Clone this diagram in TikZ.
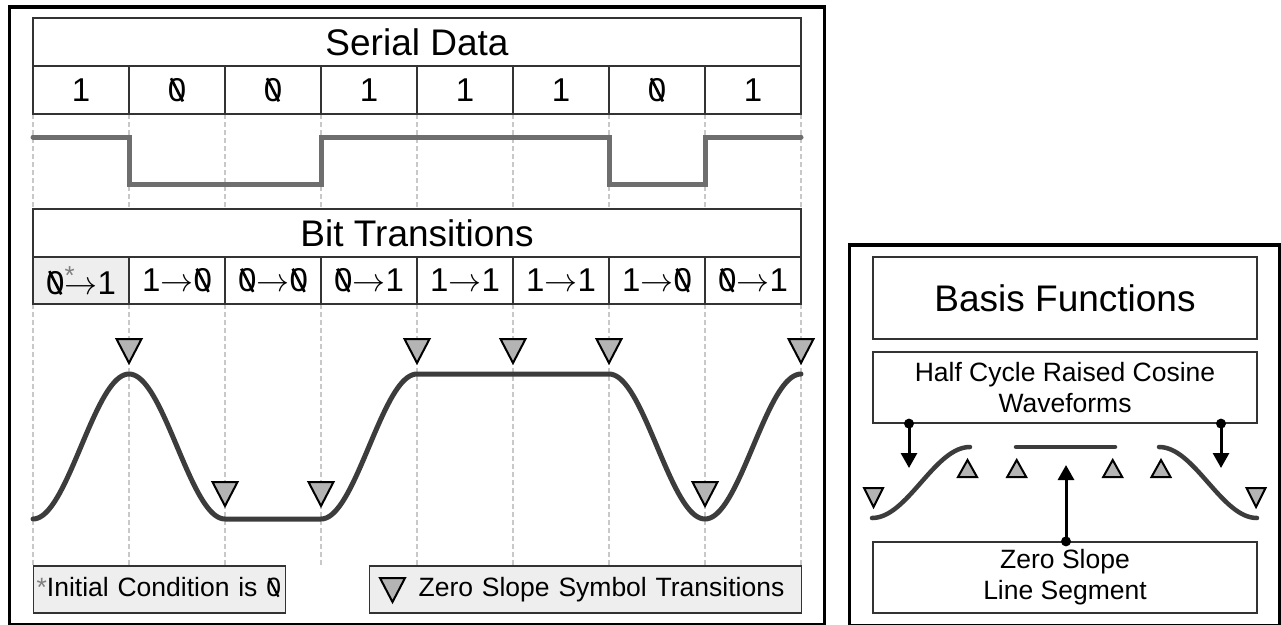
\RequirePackage{fix-cm}
\documentclass[tikz,border=0pt]{standalone}
\usepackage{fontspec}
\setmainfont{Liberation Sans}
\usetikzlibrary{arrows.meta}

\definecolor{gridgray}{HTML}{C8C8C8}
\definecolor{sqgray}{HTML}{6E6E6E}
\definecolor{wavegray}{HTML}{3C3C3C}
\definecolor{trifill}{HTML}{B4B4B4}
\definecolor{legfill}{HTML}{EEEEEE}
\definecolor{cellline}{HTML}{333333}

% font size helper
\newcommand\setfs[1]{\fontsize{#1}{#1}\selectfont}
% slashed zero
\newcommand\zr{0\tikz[overlay,baseline=0pt,x=1em,y=1em]\draw[line width=0.08em,black] (-0.46,0.70)--(-0.10,0.0);}
% thin transition arrow
\newcommand\tto{$\rightarrow$}

\tikzset{
  frm/.style={draw=black, line width=3.5pt},
  cellbox/.style={draw=cellline, line width=1.2pt, inner sep=0pt,
    minimum width=96pt, minimum height=48pt, font=\setfs{33}},
  hdrbox/.style={cellbox, minimum width=768pt, font=\setfs{37}},
  gridln/.style={draw=gridgray, line width=2.2pt, dash pattern=on 4.5pt off 3.5pt},
  sqsig/.style={draw=sqgray, line width=5pt, line cap=round, line join=miter},
  sigwave/.style={draw=wavegray, line width=5pt, line cap=round, line join=round},
  trimark/.style={fill=trifill, draw=black, line width=2pt, line join=miter},
  legbox/.style={draw=cellline, line width=1.2pt, fill=legfill, inner xsep=3pt, inner ysep=0pt,
    minimum height=47pt, text height=19.5pt, text depth=5pt, align=left, font=\setfs{26.5}},
  infobox/.style={draw=cellline, line width=1.2pt, inner sep=0pt, minimum width=384pt,
    align=center, font=\setfs{26.5}},
  ptr/.style={draw=black, line width=3pt, -{Triangle[width=16pt,length=15pt]}},
  downtri/.pic={\path[trimark] (-12.5,-24) -- (12.5,-24) -- (0,0) -- cycle;},
  smalldown/.pic={\path[trimark] (-9.5,-19) -- (9.5,-19) -- (0,0) -- cycle;},
  smallup/.pic={\path[trimark] (-9.5,17) -- (9.5,17) -- (0,0) -- cycle;},
}

\begin{document}
\begin{tikzpicture}[x=1pt,y=-1pt]
\useasboundingbox (0,0) rectangle (1281,624);
\fill[white] (0,0) rectangle (1281,624);

% ---------- left panel ----------
\draw[frm] (9.3,7) rectangle (824.5,625);

% bit boundary guides
\foreach \k in {0,...,8} {
  \draw[gridln] ({33+96*\k},114) -- ({33+96*\k},209);
  \draw[gridln] ({33+96*\k},304) -- ({33+96*\k},565);
}

% serial data table
\node[hdrbox] (sd) at (417,42) {Serial Data};
\foreach \v [count=\i] in {1,\zr,\zr,1,1,1,\zr,1}
  \node[cellbox] (b\i) at ({-15+96*\i},90) {\v};

% NRZ level
\draw[sqsig] (33,137) -- (129,137) -- (129,184) -- (321,184) -- (321,137)
  -- (609,137) -- (609,184) -- (705,184) -- (705,137) -- (801,137);

% bit transitions table
\node[cellbox, minimum height=47pt, fill=legfill] (t1) at (81,280.5)
  {\zr\rlap{\raisebox{10pt}{\textcolor{gray}{\setfs{26}*}}}\tto1};
\node[hdrbox] (bt) at (417,233) {Bit Transitions};
\foreach \t [count=\i from 2] in {{1\tto\zr},{\zr\tto\zr},{\zr\tto1},{1\tto1},{1\tto1},{1\tto\zr},{\zr\tto1}}
  \node[cellbox, minimum height=47pt] (t\i) at ({-15+96*\i},280.5) {\t};

% shaped waveform
\draw[sigwave]
  plot[domain=0:1,samples=41] ({33+96*\x},{519-145*(1-cos(180*\x))/2})
  -- plot[domain=0:1,samples=41] ({129+96*\x},{374+145*(1-cos(180*\x))/2})
  -- (321,519)
  -- plot[domain=0:1,samples=41] ({321+96*\x},{519-145*(1-cos(180*\x))/2})
  -- (609,374)
  -- plot[domain=0:1,samples=41] ({609+96*\x},{374+145*(1-cos(180*\x))/2})
  -- plot[domain=0:1,samples=41] ({705+96*\x},{519-145*(1-cos(180*\x))/2});

% zero slope markers
\foreach \px in {129,417,513,609,801} \pic at (\px,363) {downtri};
\foreach \px in {225,321,705} \pic at (\px,506) {downtri};

% legends
\node[legbox, text width=246pt, anchor=west] (ic) at (33,589.5)
  {\textcolor{gray}{*}Initial Condition is \zr};
\node[legbox, inner xsep=11pt, text width=410pt, anchor=west] (zs) at (369,589.5)
  {\hspace*{38pt}Zero Slope Symbol Transitions};
\pic at (392.5,602) {downtri};

% ---------- right panel ----------
\draw[frm] (849.5,245) rectangle (1279.5,626);

\node[infobox, minimum height=82pt, font=\setfs{37}] (bf) at (1065,298) {Basis Functions};
\node[infobox, minimum height=71pt] (hc) at (1065,387.5) {Half Cycle Raised Cosine\\[4.5pt]Waveforms};
\node[infobox, minimum height=71pt] (zl) at (1065,577.5) {Zero Slope\\[4.5pt]Line Segment};

% basis shapes
\draw[sigwave, line width=4.5pt]
  plot[domain=0:1,samples=41] ({872+98*\x},{518-71*(1-cos(180*\x))/2});
\draw[sigwave, line width=4.5pt] (1016,447) -- (1115,447);
\draw[sigwave, line width=4.5pt]
  plot[domain=0:1,samples=41] ({1159+98*\x},{447+71*(1-cos(180*\x))/2});

\pic at (873.5,507) {smalldown};
\pic at (1256,507) {smalldown};
\foreach \px in {967.5,1016.7,1112.7,1161} \pic at (\px,460) {smallup};

% pointers
\coordinate (pl) at (909,468);
\coordinate (pr) at (1221,468);
\coordinate (pm) at (1066,465);
\draw[ptr] (hc.south -| pl) -- (pl);
\draw[ptr] (hc.south -| pr) -- (pr);
\draw[ptr] (zl.north -| pm) -- (pm);
\fill (hc.south -| pl) circle (5);
\fill (hc.south -| pr) circle (5);
\fill (zl.north -| pm) circle (5);
\end{tikzpicture}
\end{document}
